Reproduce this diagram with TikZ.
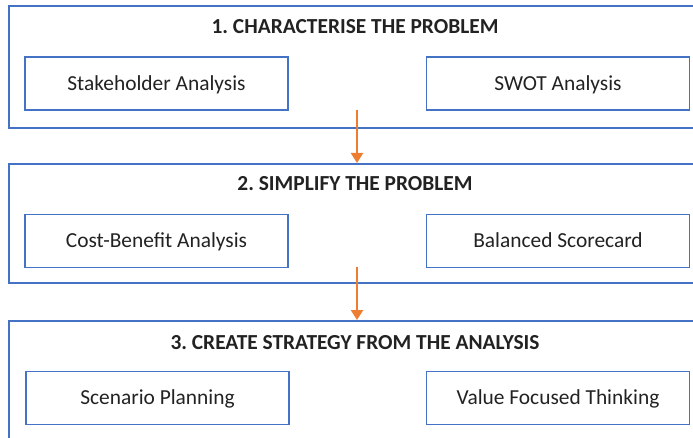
\documentclass[tikz,border=0pt]{standalone}
\usepackage{fontspec}
\setmainfont{Carlito}
\usetikzlibrary{arrows.meta}
\definecolor{boxblue}{HTML}{4472C4}
\definecolor{arrorange}{HTML}{ED7D31}
\definecolor{txt}{HTML}{222222}
\frenchspacing
\begin{document}
\begin{tikzpicture}[x=1pt,y=1pt,
  outerbox/.style={draw=boxblue, line width=2.2pt, anchor=north west, minimum width=720pt, inner sep=0pt},
  innerbox/.style={draw=boxblue, line width=1.4pt, minimum width=263pt, minimum height=53pt, inner sep=0pt,
     text height=13.2pt, text depth=0pt, font=\fontsize{21.4}{24}\selectfont, text=txt},
  titletext/.style={font=\fontsize{21.4}{24}\selectfont\bfseries, text=txt, text height=13.4pt, text depth=0pt, inner sep=0pt},
  arr/.style={draw=arrorange, line width=2.2pt, -{Triangle[length=10pt,width=12pt]}}]
\useasboundingbox (0,0) rectangle (693,-438);
\clip (0,0) rectangle (693,-438);
% outer boxes
\node[outerbox, minimum height=122pt] (b1) at (8,-5) {};
\node[outerbox, minimum height=119pt] (b2) at (8,-163) {};
\node[outerbox, minimum height=140pt] (b3) at (8,-320) {};
% titles
\node[titletext] (t1) at (355,-26.5) {1. CHARACTERISE THE PROBLEM};
\node[titletext] (t2) at (355,-184) {2. SIMPLIFY THE PROBLEM};
\node[titletext] (t3) at (355,-342.5) {3. CREATE STRATEGY FROM THE ANALYSIS};
% inner boxes
\node[innerbox] (s1) at (156.5,-83.5) {Stakeholder Analysis};
\node[innerbox] (s2) at (558,-83.5) {SWOT Analysis};
\node[innerbox] (c1) at (156.5,-241) {Cost-Benefit Analysis};
\node[innerbox] (c2) at (558,-241) {Balanced Scorecard};
\node[innerbox] (p1) at (157.5,-398) {Scenario Planning};
\node[innerbox] (p2) at (558,-398) {Value Focused Thinking};
% arrows
\coordinate (a1) at (357,-110);
\coordinate (a2) at (357,-267);
\draw[arr] (a1) -- (a1 |- b2.north);
\draw[arr] (a2) -- (a2 |- b3.north);
\end{tikzpicture}
\end{document}
